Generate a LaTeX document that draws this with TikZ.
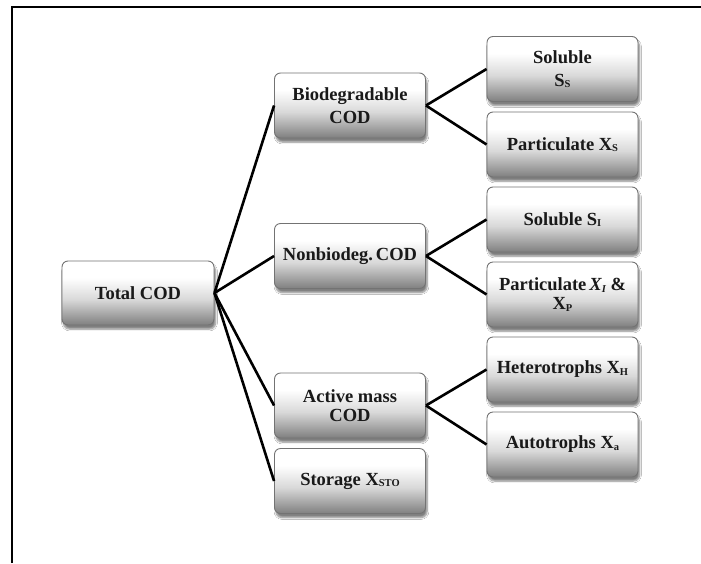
\documentclass[tikz,border=0pt]{standalone}
\usepackage{fontspec}
\setmainfont{Liberation Serif}
\usetikzlibrary{shadows.blur}
% vertical shading of the boxes: grey at the bottom, white above
\pgfdeclareverticalshading{boxshade}{100bp}{color(0bp)=(black!50); color(25bp)=(black!50); color(45bp)=(black!15); color(62bp)=(white); color(100bp)=(white)}
\newcommand{\sbs}[1]{\raisebox{-0.15ex}{\fontsize{10.5}{10.5}\selectfont #1}}
\tikzset{
  codbox/.style={draw=black!55, line width=0.9pt, rounded corners=6pt,
    shading=boxshade, minimum width=151pt, minimum height=65pt,
    inner sep=1pt, align=center, text=black!90,
    font=\bfseries\fontsize{18.5}{23}\selectfont,
    blur shadow={shadow xshift=1.5pt, shadow yshift=-4pt, shadow blur steps=6, shadow opacity=50}},
  link/.style={line width=2.6pt, black},
  frameline/.style={line width=2pt, black}
}
\begin{document}
\begin{tikzpicture}[x=1pt,y=-1pt]
\useasboundingbox (0,0) rectangle (701,563);
\fill[white] (0,0) rectangle (701,563);
% frame on the top and left edge
\draw[frameline] (12,563) -- (12,7) -- (701,7);

% root
\node[codbox, minimum width=152pt, minimum height=64pt] (total) at (138,293) {Total COD};

% middle column
\node[codbox] (bio) at (350,105.5) {Biodegradable\\COD};
\node[codbox] (non) at (350,256) {Nonbiodeg.\,COD};
\node[codbox, font=\bfseries\fontsize{18.5}{18.5}\selectfont] (act) at (350,405.5) {Active mass\\COD};
\node[codbox] (sto) at (350,481) {Storage X\sbs{STO}};

% right column
\node[codbox] (ss) at (562.5,69) {Soluble\\S\sbs{S}};
\node[codbox] (xs) at (562.5,144.5) {Particulate X\sbs{S}};
\node[codbox] (si) at (562.5,219.5) {Soluble S\sbs{I}};
\node[codbox, font=\bfseries\fontsize{18.5}{19}\selectfont] (xi) at (562.5,294.5) {Particulate\,\textit{X\sbs{I}} \&\\X\sbs{P}};
\node[codbox] (xh) at (562.5,369.5) {Heterotrophs X\sbs{H}};
\node[codbox] (xa) at (562.5,444.5) {Autotrophs X\sbs{a}};

% connectors
\foreach \m in {bio,non,act,sto}
  \draw[link] (total.east) -- (\m.west);
\draw[link] (bio.east) -- (ss.west);
\draw[link] (bio.east) -- (xs.west);
\draw[link] (non.east) -- (si.west);
\draw[link] (non.east) -- (xi.west);
\draw[link] (act.east) -- (xh.west);
\draw[link] (act.east) -- (xa.west);
\end{tikzpicture}
\end{document}
